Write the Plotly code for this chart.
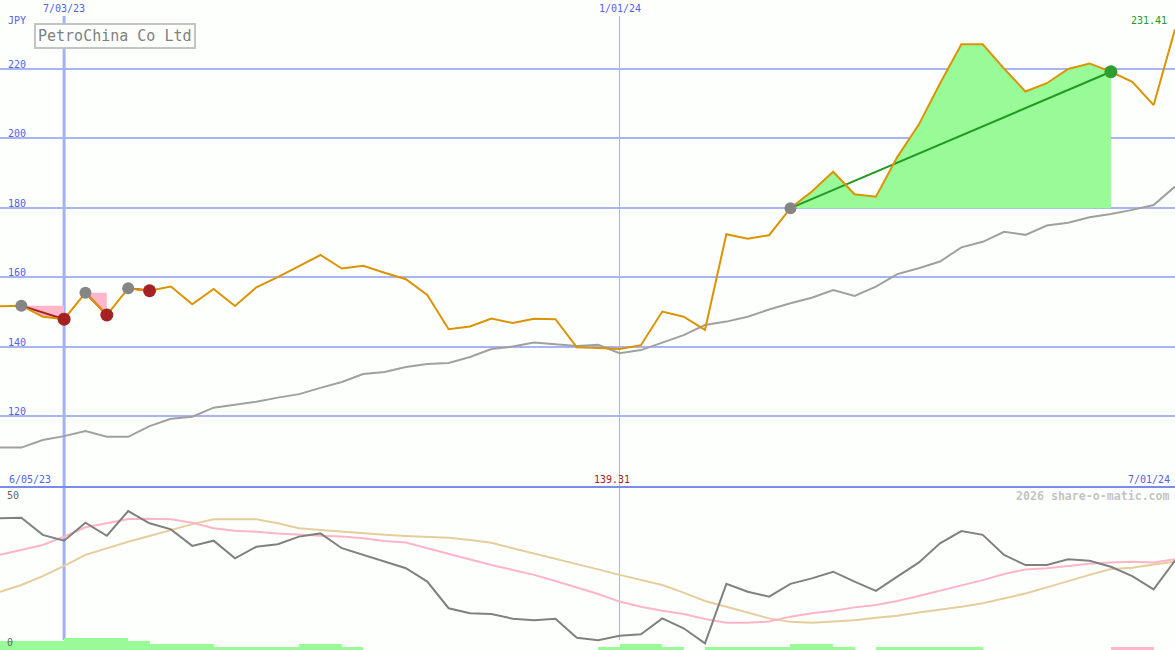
import pandas as pd
import plotly.graph_objects as go

# ---------------- data ----------------
dates = pd.date_range("2023-06-12", periods=56, freq="7D")

price = [151.6, 151.8, 148.6, 147.9, 155.5, 149.1, 156.8, 156.1, 157.3, 152.2,
         156.6, 151.7, 157.1, 160.0, 163.2, 166.4, 162.5, 163.3, 161.3, 159.4,
         154.9, 145.0, 145.8, 148.1, 146.8, 148.0, 147.9, 139.8, 139.6, 139.31,
         140.4, 150.1, 148.6, 144.8, 172.4, 171.1, 172.1, 179.9, 184.7, 190.4,
         183.9, 183.2, 194.6, 203.9, 215.8, 227.1, 227.1, 220.1, 213.5, 215.9,
         220.0, 221.6, 219.2, 216.3, 209.6, 231.41]

moving_avg = [110.9, 110.9, 113.1, 114.2, 115.7, 114.0, 114.0, 117.1, 119.2, 119.8,
              122.4, 123.2, 124.1, 125.3, 126.3, 128.1, 129.8, 132.1, 132.7, 134.1,
              135.0, 135.3, 137.0, 139.3, 140.0, 141.2, 140.7, 140.2, 140.5, 138.1,
              139.0, 141.2, 143.3, 146.2, 147.2, 148.6, 150.7, 152.5, 154.1, 156.3,
              154.6, 157.3, 160.9, 162.6, 164.5, 168.6, 170.2, 173.1, 172.2, 174.9,
              175.7, 177.3, 178.2, 179.4, 180.8, 186.1]

oscillator = [42.3, 42.5, 36.6, 34.6, 40.8, 36.3, 44.8, 40.6, 38.5, 32.8,
              34.6, 28.5, 32.5, 33.4, 36.0, 37.1, 32.0, 29.7, 27.3, 25.1,
              20.5, 11.3, 9.6, 9.3, 7.7, 7.2, 7.7, 1.1, 0.3, 1.8,
              2.3, 7.8, 4.4, -0.8, 19.7, 17.0, 15.3, 19.7, 21.6, 23.9,
              20.5, 17.3, 22.2, 27.0, 33.7, 37.9, 36.6, 29.7, 26.2, 26.2,
              28.2, 27.7, 25.6, 22.4, 17.8, 27.7]

osc_fast = [29.7, 31.4, 33.1, 36.0, 39.2, 40.6, 42.1, 42.2, 42.0, 40.8,
            38.9, 38.0, 37.7, 37.1, 36.6, 36.3, 36.0, 35.4, 34.5, 34.0,
            32.0, 30.0, 28.2, 26.2, 24.5, 22.8, 20.7, 18.5, 16.2, 13.6,
            11.8, 10.4, 9.3, 7.6, 6.3, 6.3, 6.7, 8.4, 9.6, 10.4,
            11.6, 12.4, 13.8, 15.5, 17.3, 19.3, 21.0, 23.1, 24.7, 25.1,
            25.9, 26.6, 27.1, 27.3, 27.1, 28.2]

osc_slow = [17.0, 19.3, 22.4, 25.9, 29.7, 32.0, 34.2, 36.2, 38.3, 40.3,
            42.0, 42.1, 42.0, 40.6, 38.9, 38.3, 37.7, 37.1, 36.6, 36.2,
            36.0, 35.6, 34.8, 33.9, 32.0, 30.2, 28.5, 26.6, 24.7, 22.8,
            21.0, 19.3, 16.7, 13.8, 11.8, 9.8, 7.8, 6.6, 6.3, 6.7,
            7.2, 8.0, 8.7, 9.8, 10.7, 11.8, 13.0, 14.7, 16.4, 18.5,
            20.7, 22.8, 24.8, 25.3, 26.4, 27.3]

# weekly streak bars (positive = green, negative = pink)
streak = [3, 3, 3, 4, 4, 4, 3, 2, 2, 2,
          1, 1, 1, 1, 2, 2, 1, 0, 0, 0,
          0, 0, 0, 0, 0, 0, 0, 0, 1, 2,
          2, 1, 0, 1, 1, 1, 1, 2, 2, 1,
          0, 1, 1, 1, 1, 1, 0, 0, 0, 0,
          0, 0, -1, -1, 0]

trades = [(1, 3), (4, 5), (6, 7), (37, 52)]   # (entry index, exit index)

price_ticks = [120, 140, 160, 180, 200, 220]
date_marks = ["2023-07-03", "2024-01-01"]
date_mark_labels = ["7/03/23", "1/01/24"]
start_label = "6/05/23"
end_label = "7/01/24"
title = "PetroChina Co Ltd"
currency = "JPY"
osc_ticks = ["50", "0"]
credit = "2026 share-o-matic.com"

# ---------------- styling ----------------
W, H = 1175, 650
BLUE_TXT = "#5262e6"
GRID = "#a9b5f2"
MONO = "DejaVu Sans Mono"
BG = "#fdfffd"


def py(px):
    return 1 - px / H


fig = go.Figure()

# trade fills
for a, b in trades:
    win = price[b] > price[a]
    xs = list(dates[a:b + 1]) + [dates[b], dates[a]]
    ys = price[a:b + 1] + [price[a], price[a]]
    fig.add_trace(go.Scatter(x=xs, y=ys, fill="toself", mode="none",
                             fillcolor="#98fb98" if win else "#ffb6c9",
                             hoverinfo="skip", showlegend=False,
                             xaxis="x", yaxis="y"))

# moving average
fig.add_trace(go.Scatter(x=dates, y=moving_avg, mode="lines",
                         line=dict(color="#a0a0a0", width=2),
                         showlegend=False, xaxis="x", yaxis="y"))

# trade lines (below price)
for a, b in trades:
    win = price[b] > price[a]
    col = "#229a22" if win else "#a52222"
    fig.add_trace(go.Scatter(x=[dates[a], dates[b]], y=[price[a], price[b]],
                             mode="lines", line=dict(color=col, width=2),
                             showlegend=False, xaxis="x", yaxis="y"))

# price
fig.add_trace(go.Scatter(x=dates, y=price, mode="lines",
                         line=dict(color="#dc9300", width=2),
                         showlegend=False, xaxis="x", yaxis="y"))

# trade markers
for a, b in trades:
    win = price[b] > price[a]
    fig.add_trace(go.Scatter(x=[dates[a]], y=[price[a]], mode="markers",
                             marker=dict(color="#858585", size=12),
                             showlegend=False, xaxis="x", yaxis="y"))
    fig.add_trace(go.Scatter(x=[dates[b]], y=[price[b]], mode="markers",
                             marker=dict(color="#2e9e2e" if win else "#a52222", size=13),
                             showlegend=False, xaxis="x", yaxis="y"))

# streak bars (lower panel)
bar_x = [d + pd.Timedelta(days=3.5) for d in dates[:-1]]
fig.add_trace(go.Bar(x=bar_x, y=[abs(v) for v in streak],
                     width=7 * 24 * 3600 * 1000,
                     marker=dict(color=["#98fb98" if v >= 0 else "#ffb6c9" for v in streak],
                                 line=dict(width=0)),
                     showlegend=False, xaxis="x2", yaxis="y3"))

# oscillators
fig.add_trace(go.Scatter(x=dates, y=osc_slow, mode="lines",
                         line=dict(color="#e6cd9c", width=2),
                         showlegend=False, xaxis="x2", yaxis="y2"))
fig.add_trace(go.Scatter(x=dates, y=osc_fast, mode="lines",
                         line=dict(color="#ffb4c8", width=2),
                         showlegend=False, xaxis="x2", yaxis="y2"))
fig.add_trace(go.Scatter(x=dates, y=oscillator, mode="lines",
                         line=dict(color="#808080", width=2),
                         showlegend=False, xaxis="x2", yaxis="y2"))

# ---------------- shapes ----------------
shapes = []
for d, w in zip(date_marks, [3, 1]):
    shapes.append(dict(type="line", xref="x", yref="paper", x0=d, x1=d,
                       y0=py(640), y1=py(16), line=dict(color="#a3b1f4", width=w),
                       layer="below"))
shapes.append(dict(type="line", xref="paper", yref="paper", x0=0, x1=1,
                   y0=py(487), y1=py(487), line=dict(color="#7a8aee", width=2)))

# ---------------- annotations ----------------
ann = []


def txt(text, x, y, color, size=10, xanchor="left", xref="paper", bold=False, **kw):
    d = dict(text=("<b>%s</b>" % text) if bold else text, x=x, y=y, xref=xref, yref="paper",
             xanchor=xanchor, yanchor="middle", showarrow=False,
             font=dict(family=MONO, size=size, color=color))
    d.update(kw)
    ann.append(d)


txt(currency, 6 / W, py(21), BLUE_TXT)
for v in price_ticks:
    ann.append(dict(text=str(v), x=6 / W, y=v, xref="paper", yref="y",
                    xanchor="left", yanchor="bottom", yshift=-3, showarrow=False,
                    font=dict(family=MONO, size=10, color=BLUE_TXT)))
for d, lab in zip(date_marks, date_mark_labels):
    txt(lab, d, py(9), BLUE_TXT, xanchor="center", xref="x")
txt(start_label, 7 / W, py(479), BLUE_TXT)
txt(end_label, 1172 / W, py(479), BLUE_TXT, xanchor="right")
txt("%.2f" % min(price), 612 / W, py(479), "#a52222", xanchor="center")
txt("%.2f" % price[-1], 1169 / W, py(21), "#229a22", xanchor="right")
txt(credit, 1172 / W, py(496), "#c4c4c4", size=11.6, xanchor="right", bold=True)
txt(osc_ticks[0], 5 / W, py(495.5), "#666666")
txt(osc_ticks[1], 5 / W, py(642), "#666666")
txt(title, 115 / W, py(36), "#808080", size=15, xanchor="center",
    bordercolor="#c4c4c4", borderwidth=2, borderpad=2, bgcolor=BG)

fig.update_layout(
    width=W, height=H, margin=dict(l=0, r=0, t=0, b=0),
    paper_bgcolor=BG, plot_bgcolor=BG, showlegend=False,
    bargap=0,
    xaxis=dict(range=[dates[0], dates[-1]], visible=False, anchor="y"),
    xaxis2=dict(range=[dates[0], dates[-1]], visible=False, anchor="y2", matches="x"),
    yaxis=dict(domain=[py(487), 1], range=[99.54, 239.88], tickvals=price_ticks,
               showticklabels=False, showgrid=True, gridcolor=GRID, gridwidth=2,
               zeroline=False, showline=False, ticks=""),
    yaxis2=dict(domain=[0, py(488)], range=[-3.10, 52.76], showgrid=False,
                showticklabels=False, zeroline=False, ticks=""),
    yaxis3=dict(overlaying="y2", anchor="x2", range=[0, 54], showgrid=False,
                showticklabels=False, zeroline=False, ticks="", domain=[0, py(488)]),
    shapes=shapes, annotations=ann,
)

fig.write_html("out.html", config={"displayModeBar": False},
               post_script="document.body.style.margin='0';")
